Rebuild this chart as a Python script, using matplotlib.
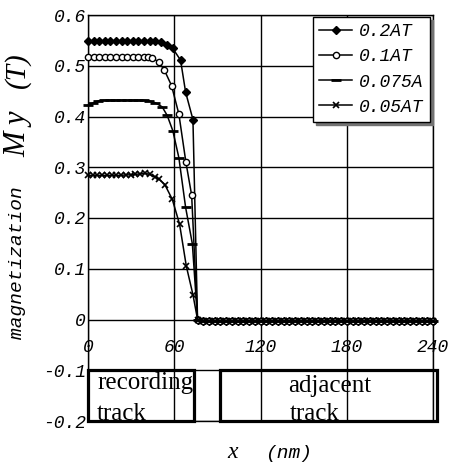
import matplotlib
matplotlib.use('Agg')
import matplotlib.pyplot as plt
from matplotlib.patches import Rectangle

# ---- data ----
series_labels = ['0.2AT', '0.1AT', '0.075A', '0.05AT']

x_02 = [0, 3.9, 7.8, 11.7, 15.6, 19.5, 23.4, 27.3, 31.2, 35.1, 39.0, 42.9, 46.8, 50.7,
        55.1, 59.0, 64.4, 67.9, 73.0, 76.2]
y_02 = [0.548, 0.548, 0.548, 0.548, 0.548, 0.548, 0.548, 0.548, 0.548, 0.548, 0.548, 0.548, 0.548, 0.547,
        0.541, 0.534, 0.511, 0.448, 0.394, 0.0]

x_01 = [0, 3.9, 7.8, 11.7, 15.6, 19.5, 23.4, 27.3, 31.2, 35.1, 39.0, 41.8, 44.4, 49.4,
        53.2, 58.1, 63.2, 68.1, 72.1, 76.2]
y_01 = [0.517, 0.517, 0.517, 0.517, 0.517, 0.517, 0.517, 0.517, 0.517, 0.517, 0.517, 0.517, 0.516, 0.507,
        0.491, 0.461, 0.405, 0.310, 0.245, 0.0]

x_075 = [0, 3.6, 7.2, 11.0, 15.0, 19.0, 23.0, 27.0, 31.0, 35.0, 39.0, 42.2, 46.9, 51.6,
         55.1, 59.0, 63.2, 67.9, 72.6, 76.2]
y_075 = [0.422, 0.427, 0.431, 0.432, 0.432, 0.432, 0.432, 0.432, 0.432, 0.432, 0.432, 0.431, 0.427, 0.419,
         0.402, 0.372, 0.319, 0.221, 0.149, 0.0]

x_05 = [0, 3.3, 6.6, 9.9, 13.2, 16.5, 19.8, 23.1, 26.4, 29.7, 33.0, 36.3, 39.6, 42.9,
        46.4, 49.7, 53.4, 58.6, 63.7, 68.4, 73.0, 76.2]
y_05 = [0.284, 0.284, 0.284, 0.284, 0.284, 0.284, 0.284, 0.284, 0.285, 0.285, 0.286, 0.287, 0.288, 0.286,
        0.281, 0.276, 0.266, 0.237, 0.188, 0.105, 0.049, 0.0]

# flat tail in the adjacent track (all four series)
tail_x = list(range(80, 241, 4))
tail_y = [-0.003] * len(tail_x)

x_ticks = [0, 60, 120, 180, 240]
x_ticklabels = ['0', '60', '120', '180', '240']
y_ticks = [0.6, 0.5, 0.4, 0.3, 0.2, 0.1, 0.0, -0.1, -0.2]
y_ticklabels = ['0.6', '0.5', '0.4', '0.3', '0.2', '0.1', '0', '-0.1', '-0.2']

MONO = 'Liberation Mono'
SERIF = 'Liberation Serif'

fig = plt.figure(figsize=(4.57, 4.68), dpi=100)
ax = fig.add_axes([88/457, 1-421/468, 345/457, 406/468])
ax.set_xlim(0, 240)
ax.set_ylim(-0.2, 0.6)
ax.set_xticks(x_ticks)
ax.set_yticks(y_ticks)
ax.tick_params(length=0, labelbottom=False)
ax.set_yticklabels(y_ticklabels, fontfamily=MONO, fontstyle='italic', fontsize=13)
ax.tick_params(axis='y', pad=1.5)
ax.grid(True, color='black', lw=1.0)
ax.set_axisbelow(True)
for s in ax.spines.values():
    s.set_linewidth(1.0)
    s.set_color('black')

for xv, lab in zip(x_ticks, x_ticklabels):
    ax.text(xv, -0.055, lab, ha='center', va='center', fontfamily=MONO,
            fontstyle='italic', fontsize=13, clip_on=False)

styles = [
    dict(marker='D', ms=4, mfc='black', mec='black'),
    dict(marker='o', ms=4.5, mfc='white', mec='black', mew=1.0),
    dict(marker='_', ms=7, mec='black', mew=2.0),
    dict(marker='x', ms=5, mec='black', mew=1.2),
]
xs = [x_02, x_01, x_075, x_05]
ys = [y_02, y_01, y_075, y_05]
for xv, yv, lab, st in zip(xs, ys, series_labels, styles):
    ax.plot(xv + tail_x, yv + tail_y, color='black', lw=1.1, label=lab,
            clip_on=False, zorder=3, **st)

leg = ax.legend(loc='upper right', bbox_to_anchor=(0.991, 0.995), borderaxespad=0,
                frameon=True, fancybox=False, edgecolor='black', framealpha=1,
                prop=dict(family=MONO, style='italic', size=13),
                handlelength=1.8, handletextpad=0.4, labelspacing=0.45,
                borderpad=0.35, shadow={'color': '0.45', 'alpha': 1})
leg.get_frame().set_linewidth(1.0)

# track boxes
ax.add_patch(Rectangle((0, -0.2), 74, 0.1, fill=False, lw=2.3, ec='black', clip_on=False, zorder=4))
ax.add_patch(Rectangle((92, -0.2), 151, 0.1, fill=False, lw=2.3, ec='black', clip_on=False, zorder=4))
ax.text(6.3, -0.136, 'recording', fontfamily=SERIF, fontsize=18, va='baseline', ha='left', zorder=5)
ax.text(6.3, -0.199, 'track', fontfamily=SERIF, fontsize=18, va='baseline', ha='left', zorder=5)
ax.text(139.3, -0.143, 'adjacent', fontfamily=SERIF, fontsize=18, va='baseline', ha='left', zorder=5)
ax.text(140.0, -0.199, 'track', fontfamily=SERIF, fontsize=18, va='baseline', ha='left', zorder=5)

# axis labels
fig.text(18/457, 1-263/468, 'magnetization', rotation=90, ha='center', va='center',
         fontfamily=MONO, fontstyle='italic', fontsize=14)
fig.text(18/457, 1-134/468, 'M y', rotation=90, ha='center', va='center',
         fontfamily=SERIF, fontstyle='italic', fontsize=22)
fig.text(18/457, 1-70/468, '(T)', rotation=90, ha='center', va='center',
         fontfamily=SERIF, fontstyle='italic', fontsize=21)
fig.text(233/457, 1-453/468, 'x', ha='center', va='center',
         fontfamily=SERIF, fontstyle='italic', fontsize=17)
fig.text(265/457, 1-453/468, '(nm)', ha='left', va='center',
         fontfamily=MONO, fontstyle='italic', fontsize=14)

fig.savefig('out.png', dpi=100)
